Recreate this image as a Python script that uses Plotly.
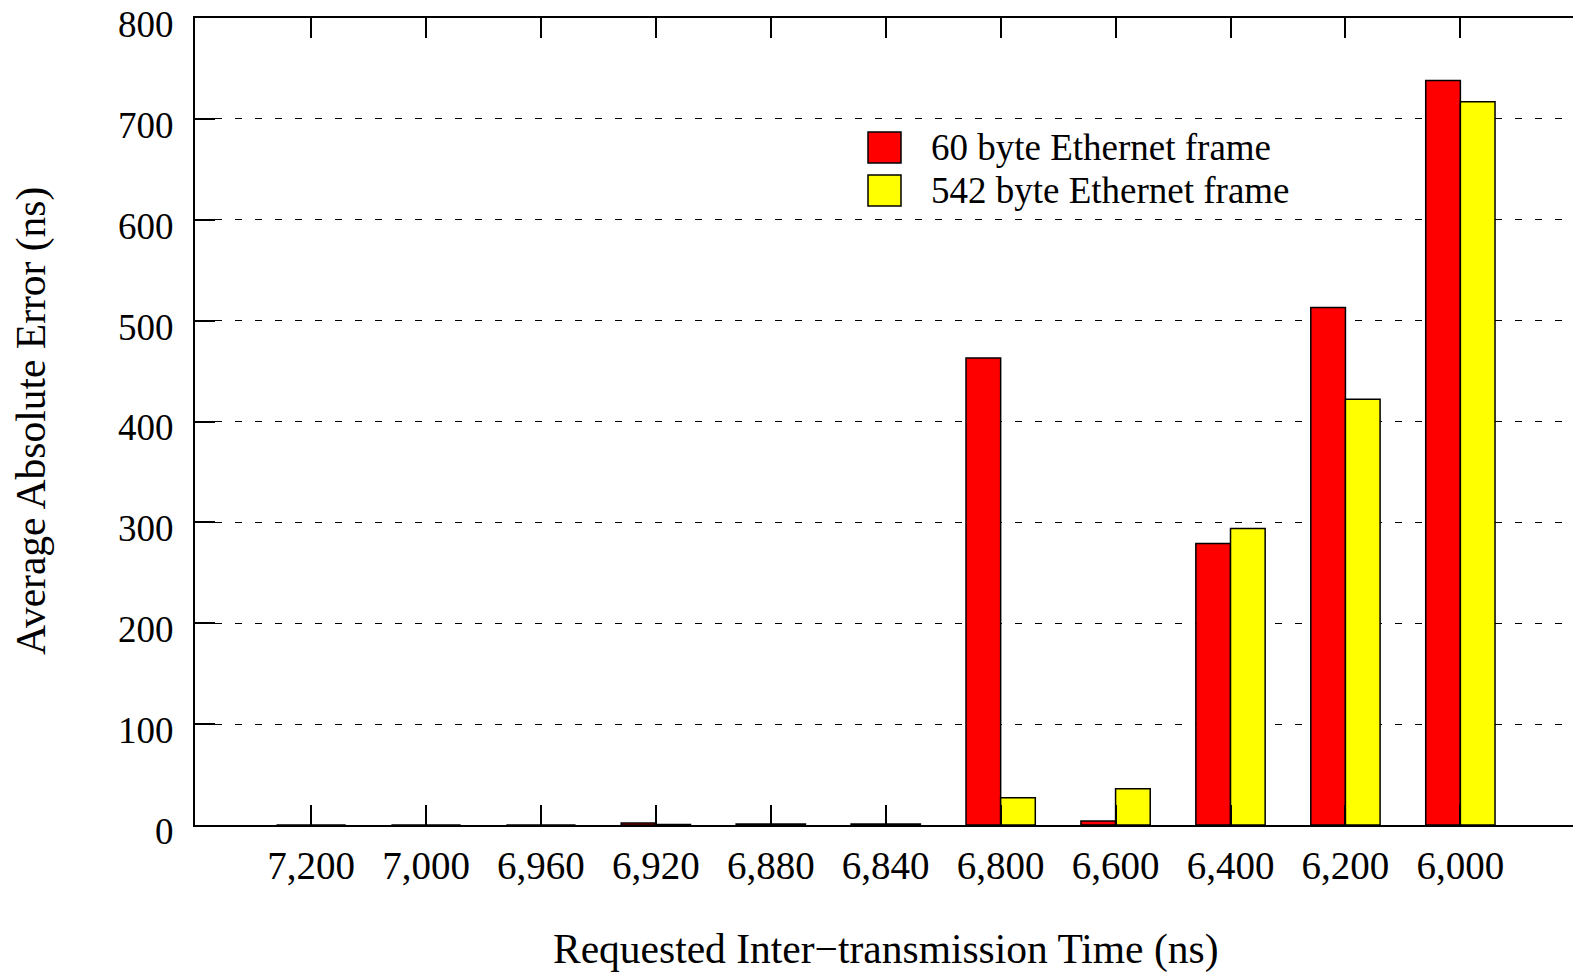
import plotly.graph_objects as go

categories = ["7,200", "7,000", "6,960", "6,920", "6,880", "6,840", "6,800", "6,600", "6,400", "6,200", "6,000"]
err_60 = [0, 0, 0, 2, 1, 1, 463, 4, 279, 513, 738]
err_542 = [0, 0, 0, 0.5, 1, 1, 27, 36, 294, 422, 717]
series_names = ["60 byte Ethernet frame", "542 byte Ethernet frame"]
series_colors = ["#ff0000", "#ffff00"]
y_ticks = [0, 100, 200, 300, 400, 500, 600, 700, 800]

W, H = 1573, 973
L, T, B, R = 195, 18, 148, 0
pw = W - L - R
ph = H - T - B

FAM = "Liberation Serif, Times New Roman, serif"
XTICKFONT = dict(family=FAM, size=39, color="black")
YTICKFONT = dict(family=FAM, size=37, color="black")
LEGFONT = dict(family=FAM, size=37, color="black")
TITLEFONT = dict(family=FAM, size=41.5, color="black")

fig = go.Figure()
xs = list(range(len(categories)))
for vals, name, col in zip([err_60, err_542], series_names, series_colors):
    fig.add_trace(go.Bar(
        x=xs, y=vals, name=name,
        marker=dict(color=col, line=dict(color="black", width=1.5)),
        showlegend=False,
    ))

def px_x(p):
    return (p - L) / pw

def px_y(p):
    return (H - B - p) / ph

shapes = []
annotations = []
legend_rows = [(132, 163, 147.5), (175, 206, 190.5)]
for (top, bot, mid), name, col in zip(legend_rows, series_names, series_colors):
    shapes.append(dict(type="rect", xref="paper", yref="paper",
                       x0=px_x(868), x1=px_x(901), y0=px_y(bot), y1=px_y(top),
                       fillcolor=col, line=dict(color="black", width=1.5)))
    annotations.append(dict(text=name, xref="paper", yref="paper",
                            x=px_x(929), y=px_y(mid), xanchor="left", yanchor="middle",
                            showarrow=False, font=LEGFONT))

annotations.append(dict(text="Average Absolute Error (ns)", xref="paper", yref="paper",
                        x=px_x(31), y=px_y(421), xanchor="center", yanchor="middle",
                        textangle=-90, showarrow=False, font=TITLEFONT))
annotations.append(dict(text="Requested Inter\u2212transmission Time (ns)", xref="paper", yref="paper",
                        x=px_x(885), y=px_y(949), xanchor="center", yanchor="middle",
                        showarrow=False, font=TITLEFONT))

fig.update_layout(
    width=W, height=H,
    margin=dict(l=L, r=R, t=T, b=B, pad=0, autoexpand=False),
    paper_bgcolor="white", plot_bgcolor="white",
    barmode="group", bargap=0.397, bargroupgap=0,
    font=XTICKFONT,
    shapes=shapes, annotations=annotations,
    showlegend=False,
)
fig.update_xaxes(
    tickmode="array", tickvals=xs, ticktext=categories,
    range=[-1.01, 10.98], automargin=False,
    showline=True, linecolor="black", linewidth=2, mirror="ticks",
    ticks="inside", ticklen=20, tickwidth=2, tickcolor="black",
    showgrid=False, zeroline=False,
    ticklabelstandoff=5, tickfont=XTICKFONT,
)
fig.update_yaxes(
    range=[0, 800.01], tickmode="array", tickvals=y_ticks, automargin=False,
    showline=True, linecolor="black", linewidth=2, mirror=False,
    ticks="inside", ticklen=20, tickwidth=2, tickcolor="black",
    showgrid=True, gridcolor="black", gridwidth=1, griddash="7px,13px",
    zeroline=False, ticklabelstandoff=12, ticklabeloverflow="allow",
    ticklabelshift=6, tickfont=YTICKFONT,
)

fig.write_html("out.html")
